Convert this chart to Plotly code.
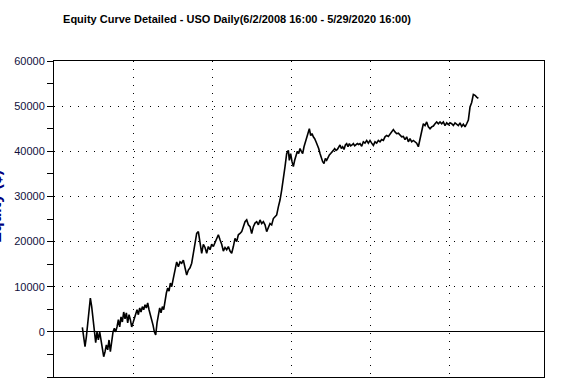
import numpy as np
import plotly.graph_objects as go

TITLE = "Equity Curve Detailed - USO Daily(6/2/2008 16:00 - 5/29/2020 16:00)"
Y_TITLE = "Equity ($)"

# Equity readings (USD), read off the chart; each segment sampled at a fixed
# interval of calendar days starting from the given day offset (day 0 = 6/2/2008).
seg1_start, seg1_step = 0.0, 14.77
seg1_equity = [1000, -1800, -3300, -1100, 2000, 4200, 7500, 5600, 2700, -1100,
               -2400, 0, -1800, 0, -2000, -4000, -5500, -4400, -2900, -4000,
               -1800, -4400, -1800, 0, 800, 0, 1100, 2700, 1100, 3300,
               2200, 4400, 2900, 4200, 2000, 3800, 2700, 1100, 2000, 3000,
               4200, 4900, 3800, 5300, 4400, 5600, 4900, 6000, 5300, 6400,
               4900, 3800, 2900, 1500, 0, -700, 2000, 3800, 5300, 4200,
               5600, 4900, 7100, 8600, 9700, 9000, 10800, 10000, 11500, 13000]

seg2_start, seg2_step = 1044.8, 18.46
seg2_equity = [15500, 14400, 15500, 15200, 15900, 14200, 12600, 13700, 14200, 15200,
               17400, 20000, 21800, 22200, 20000, 17400, 19400, 18700, 17400, 18900,
               18200, 19400, 18900, 19700, 20700, 21500, 20400, 19400, 17900, 18700,
               18200, 18900, 17900, 17400, 18900, 20700, 20000, 21500, 21800, 22200,
               23300, 24400, 24800, 23700, 23300, 21800, 23300, 24100, 24400, 23700,
               24800]

seg3_start, seg3_step = 1986.2, 18.46
seg3_equity = [24000, 24400, 23700, 22200, 23000, 24000, 23700, 25100, 25500, 25900,
               27700, 29200, 31400, 33600, 36600, 39500, 40200]

seg4_start, seg4_step = 2292.5, 14.77
seg4_equity = [38000, 39500, 37700, 36600, 38000, 38800, 40000, 39500, 40600, 40000,
               39500, 41000, 42100, 43200, 43900, 45000, 43500, 43900, 43200, 42800,
               42100, 41400, 40600, 39500, 38400, 37700, 37300, 38400, 38000, 38800,
               39200, 39500, 40000, 40200, 40600, 40200, 40400, 40800, 41400, 40600,
               41000, 40400, 41400, 41700, 41000, 41700, 41200, 41400, 41700, 41200,
               41500, 41700, 41500, 41700]

seg5_start, seg5_step = 3093.7, 18.46
seg5_equity = [41100, 42100, 41800, 42400, 41800, 42400, 41800, 41300, 42100, 41800,
               42400, 42100, 42600, 42400, 43200, 43500, 43300, 43900, 44300, 44800,
               44300, 43900, 44000, 43500, 43200, 43300, 42600, 43200, 42100, 42800,
               42100, 42400, 42100, 41800, 41000, 42500, 44700, 46100, 45700, 46500,
               45400, 45000, 45400, 45600, 46100, 46500, 46100, 46500, 46100, 46500,
               45700, 46300, 45900, 46300, 46100, 45700, 46300, 46000, 45700, 46300,
               45500, 46000, 45400, 46100, 46900, 49800, 50800, 52600, 52400, 52000,
               51700]

segments = [
    (seg1_start, seg1_step, seg1_equity),
    (seg2_start, seg2_step, seg2_equity),
    (seg3_start, seg3_step, seg3_equity),
    (seg4_start, seg4_step, seg4_equity),
    (seg5_start, seg5_step, seg5_equity),
]

days, equity = [], []
for start, step, vals in segments:
    days.extend(start + step * np.arange(len(vals)))
    equity.extend(vals)

x_grid_days = [561, 1436, 2311, 3186, 4061]
x_range = [-314, 5113]
y_range = [-10000, 60000]

fig = go.Figure()
fig.add_trace(go.Scatter(x=days, y=equity, mode="lines",
                         line=dict(color="black", width=1.6), hoverinfo="skip",
                         showlegend=False))

fig.update_layout(
    width=572, height=381,
    margin=dict(l=54, r=28, t=61, b=4, pad=0),
    paper_bgcolor="white", plot_bgcolor="white",
    title=dict(text=TITLE, x=237 / 572, xanchor="center", y=1 - 19 / 381, yanchor="middle",
               font=dict(family="Liberation Sans, Arial", size=11, color="black", weight="bold")),
    font=dict(family="Liberation Sans, Arial", size=11, color="#10103c"),
)
fig.update_xaxes(range=x_range, tickmode="array", tickvals=x_grid_days,
                 showticklabels=False, ticks="", showgrid=True, gridcolor="black",
                 griddash="1px,7px", gridwidth=1, zeroline=False,
                 showline=True, linecolor="black", linewidth=1, mirror=True)
fig.update_yaxes(range=y_range, dtick=10000, tick0=0, tickformat="d",
                 ticks="outside", ticklen=6,
                 tickcolor="black", tickfont=dict(size=11, color="#10103c"),
                 minor=dict(dtick=5000, ticks="outside", ticklen=6, tickcolor="black", showgrid=False),
                 showgrid=True, gridcolor="black", griddash="1px,7px", gridwidth=1,
                 zeroline=True, zerolinecolor="black", zerolinewidth=1,
                 showline=True, linecolor="black", linewidth=1, mirror=True)

fig.add_annotation(text=Y_TITLE, textangle=-90, xref="paper", yref="paper",
                   x=0, y=0.54, xanchor="right", yanchor="middle", xshift=-48,
                   showarrow=False,
                   font=dict(family="Liberation Sans", size=16, color="#000080", weight="bold"))

fig.write_html("out.html", config={"displayModeBar": False, "staticPlot": True},
               post_script="document.body.style.margin='0';document.body.style.overflow='hidden';")
